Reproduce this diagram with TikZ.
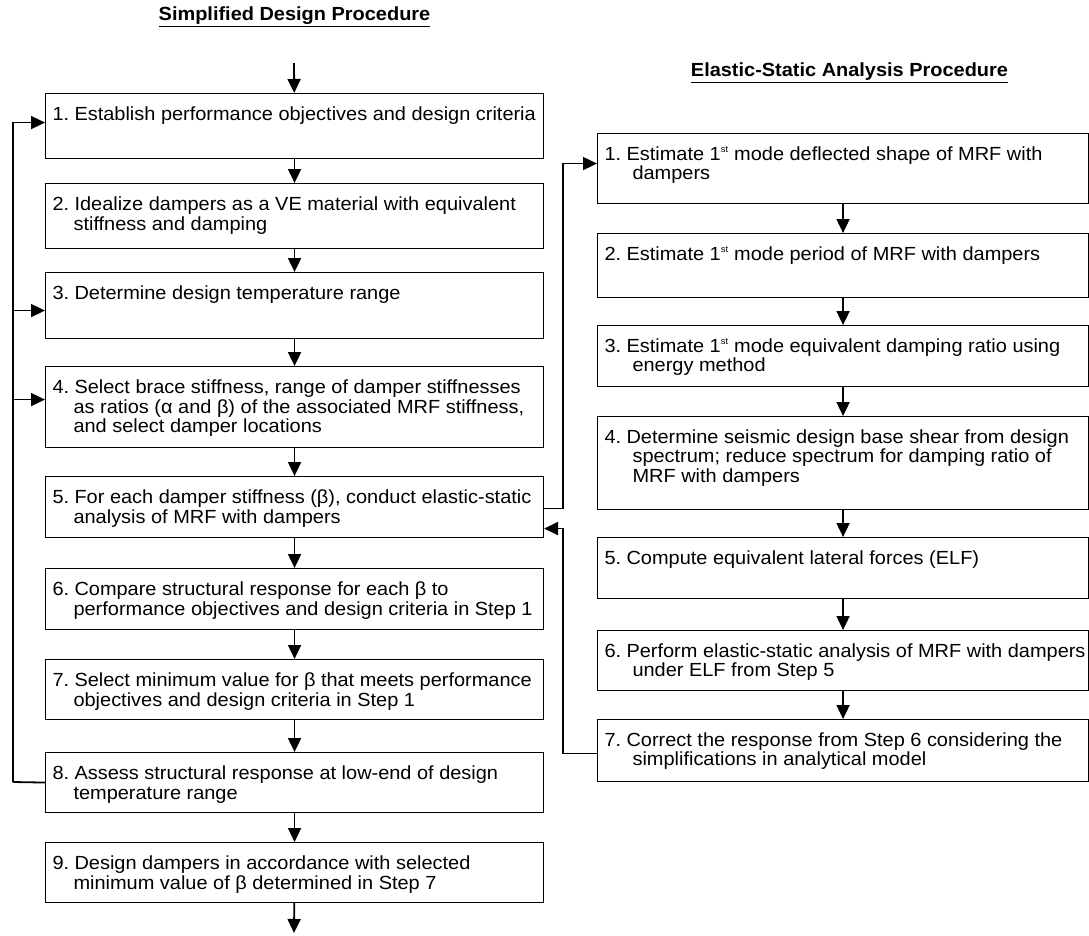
\documentclass[tikz,border=0pt]{standalone}
\usepackage{fontspec}
\setmainfont{Liberation Sans}[FakeStretch=1.05]
\usetikzlibrary{arrows.meta,calc,positioning}
\tikzstyle{stepbox}=[draw,line width=1.1pt,inner xsep=7pt,inner ysep=0pt,anchor=north west]
\tikzstyle{flow}=[line width=1.8pt,-{Triangle[length=14pt,width=13pt]}]
\tikzstyle{proctitle}=[font=\fontsize{19}{19.5}\selectfont\bfseries]
% step text: height, number, text (lines split by \\)
\newcommand{\lstep}[3]{\parbox[c][#1][t]{484pt}{\fontsize{19}{19.5}\selectfont\rule{0pt}{27pt}\hangindent=21pt\hangafter=1\makebox[22pt][l]{#2}#3}}
\newcommand{\rstep}[3]{\parbox[c][#1][t]{477pt}{\fontsize{19}{19.5}\selectfont\rule{0pt}{26.5pt}\hangindent=28pt\hangafter=1\makebox[22pt][l]{#2}#3}}
\newcommand{\stsup}{\raisebox{1.5pt}{\textsuperscript{\fontsize{9}{9}\selectfont st}}}

\begin{document}
\begin{tikzpicture}[x=1pt,y=-1pt]
  \useasboundingbox (0,0) rectangle (1089,935);
  \node [proctitle] (tleft)  at (294.5,17) {\underline{Simplified Design Procedure}};
  \node [proctitle] (tright) at (849.5,73) {\underline{Elastic-Static Analysis Procedure}};
  % simplified design procedure
  \node [stepbox] (L1) at (45,93)  {\lstep{65pt}{1.}{Establish performance objectives and design criteria}};
  \node [stepbox] (L2) at (45,183) {\lstep{65pt}{2.}{Idealize dampers as a VE material with equivalent\\stiffness and damping}};
  \node [stepbox] (L3) at (45,272) {\lstep{66pt}{3.}{Determine design temperature range}};
  \node [stepbox] (L4) at (45,366) {\lstep{81pt}{4.}{Select brace stiffness, range of damper stiffnesses\\as ratios (α and β) of the associated MRF stiffness,\\and select damper locations}};
  \node [stepbox] (L5) at (45,476) {\lstep{61pt}{5.}{For each damper stiffness (β), conduct elastic-static\\analysis of MRF with dampers}};
  \node [stepbox] (L6) at (45,568) {\lstep{61pt}{6.}{Compare structural response for each β to\\performance objectives and design criteria in Step 1}};
  \node [stepbox] (L7) at (45,659) {\lstep{60pt}{7.}{Select minimum value for β that meets performance\\objectives and design criteria in Step 1}};
  \node [stepbox] (L8) at (45,752) {\lstep{60pt}{8.}{Assess structural response at low-end of design\\temperature range}};
  \node [stepbox] (L9) at (45,842) {\lstep{60pt}{9.}{Design dampers in accordance with selected\\minimum value of β determined in Step 7}};
  % elastic-static analysis procedure
  \node [stepbox] (R1) at (597,133) {\rstep{70pt}{1.}{Estimate 1\stsup{} mode deflected shape of MRF with\\dampers}};
  \node [stepbox] (R2) at (597,233) {\rstep{64pt}{2.}{Estimate 1\stsup{} mode period of MRF with dampers}};
  \node [stepbox] (R3) at (597,325) {\rstep{61pt}{3.}{Estimate 1\stsup{} mode equivalent damping ratio using\\energy method}};
  \node [stepbox] (R4) at (597,416) {\rstep{93pt}{4.}{Determine seismic design base shear from design\\spectrum; reduce spectrum for damping ratio of\\MRF with dampers}};
  \node [stepbox] (R5) at (597,537) {\rstep{61pt}{5.}{Compute equivalent lateral forces (ELF)}};
  \node [stepbox] (R6) at (597,630) {\rstep{60pt}{6.}{\mbox{Perform elastic-static analysis of MRF with dampers}\\under ELF from Step 5}};
  \node [stepbox] (R7) at (597,719) {\rstep{62pt}{7.}{Correct the response from Step 6 considering the\\simplifications in analytical model}};

  \coordinate (start) at (294,63);
  \coordinate (stop)  at (294,933);
  \draw [flow] (start) -- (L1);
  \foreach \a/\b in {L1/L2,L2/L3,L3/L4,L4/L5,L5/L6,L6/L7,L7/L8,L8/L9,R1/R2,R2/R3,R3/R4,R4/R5,R5/R6,R6/R7}
    \draw [flow] (\a) -- (\b);
  \draw [flow] (L9) -- (stop);

  % loop back from step 8
  \coordinate (fb) at (13,782);
  \coordinate (j1) at ($(L1.west)+(0,-3.5)$);
  \coordinate (j3) at ($(L3.west)+(0,5)$);
  \coordinate (j4) at ($(L4.west)+(0,-7.5)$);
  \draw [line width=1.8pt] (L8.west) -- (fb);
  \draw [flow] (fb) |- (j1);
  \draw [flow] (fb |- j3) -- (j3);
  \draw [flow] (fb |- j4) -- (j4);

  % link to the elastic-static analysis
  \coordinate (bus) at (563,0);
  \coordinate (a1) at ($(L5.east)+(0,1.5)$);
  \coordinate (a2) at ($(L5.east)+(0,21.5)$);
  \coordinate (r1in)  at ($(R1.west)+(0,-5)$);
  \coordinate (r7out) at ($(R7.west)+(0,3)$);
  \draw [flow] (a1) -- (a1 -| bus) |- (r1in);
  \draw [flow] (r7out) -- (r7out -| bus) |- (a2);
\end{tikzpicture}
\end{document}
